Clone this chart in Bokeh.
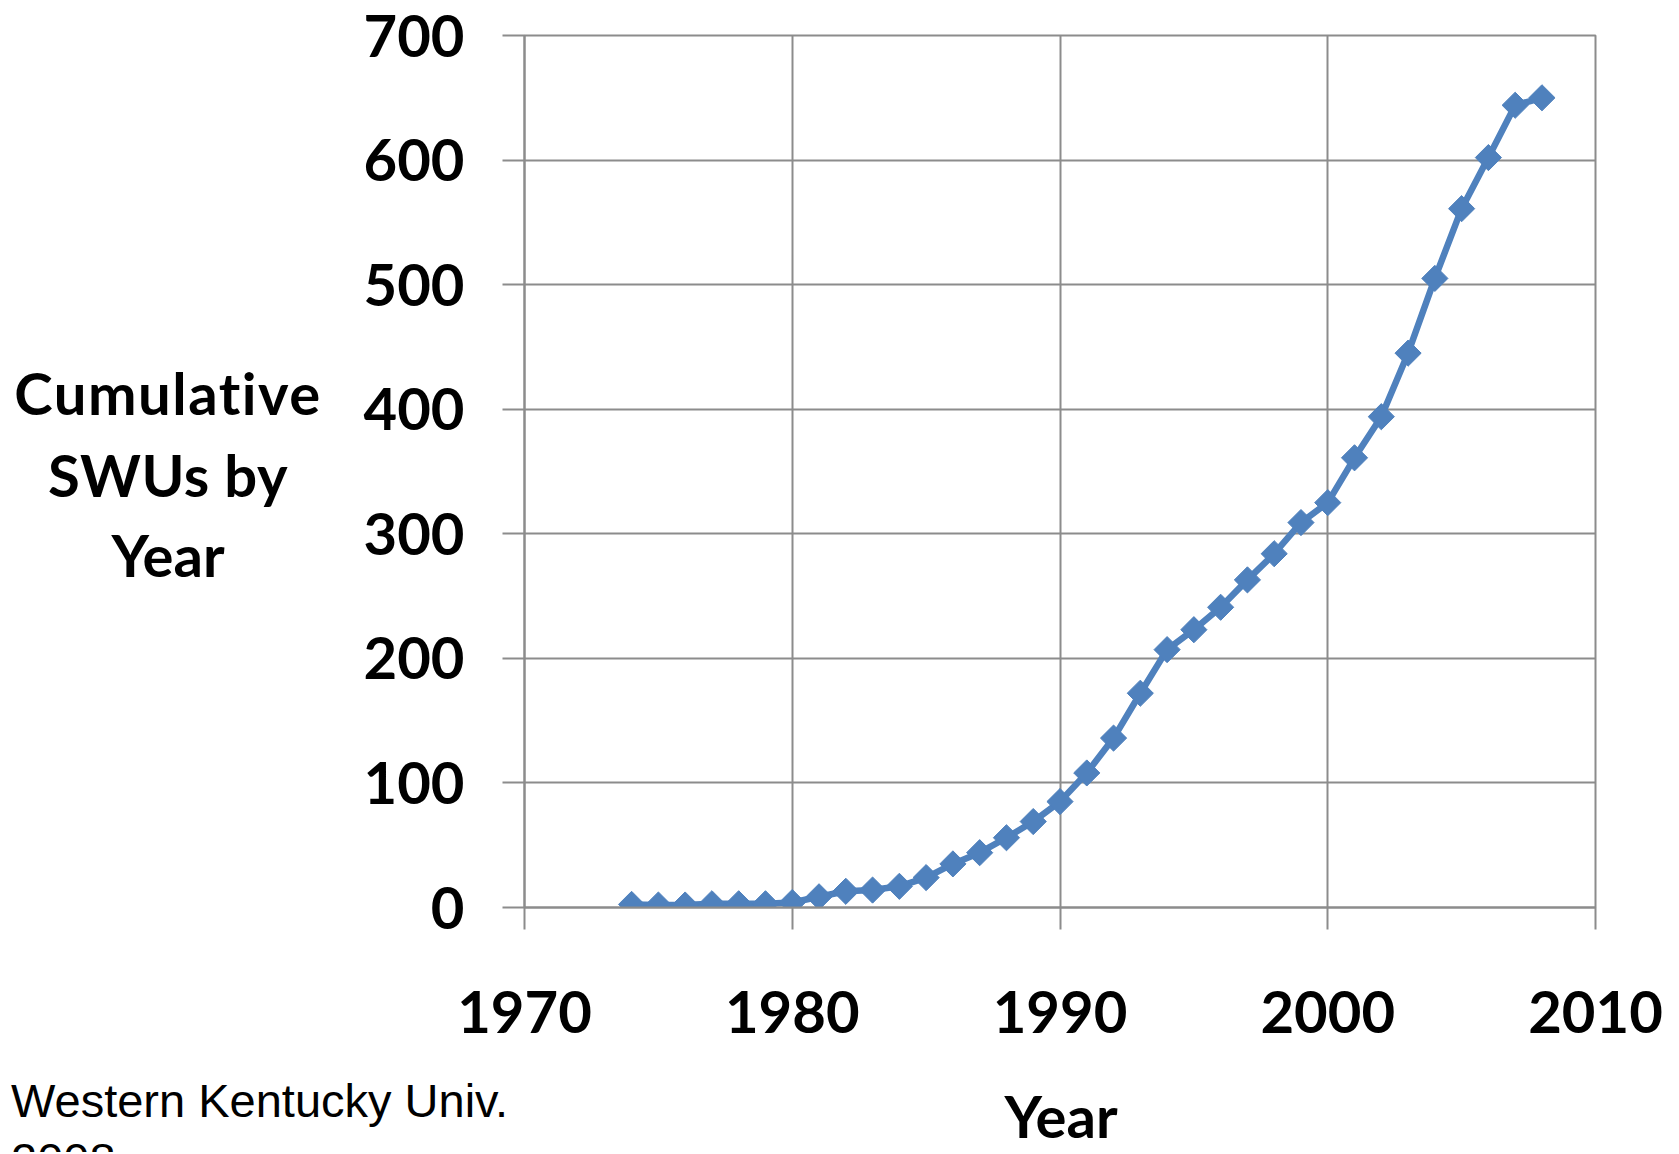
from bokeh.plotting import figure
from bokeh.models import FixedTicker, Range1d, Div
from bokeh.layouts import column, row
from bokeh.embed import file_html
from bokeh.resources import INLINE

years = list(range(1974, 2009))
swus = [2.5, 2, 2, 3, 3, 3, 4,
        8.6, 13, 14, 17, 24, 35, 44, 56, 69,
        85, 108, 136, 172, 207, 223, 241, 263, 284, 309,
        325, 361, 394, 445, 505, 561, 602, 644, 650]
x_ticks = [1970, 1980, 1990, 2000, 2010]
y_ticks = [0, 100, 200, 300, 400, 500, 600, 700]
y_title_lines = ["Cumulative", "SWUs by", "Year"]
x_title = "Year"
source_lines = ["Western Kentucky Univ.", "2008"]

BLUE = "#4F81BD"
GRID = "#8C8C8C"
FONT = "Lato"

W_TOTAL, H_TOTAL = 1663, 1152
W_LEFT = 330          # width of the panel holding the y title
H_TOP = 1065          # height of the chart row

# ---- main chart ----
p = figure(width=W_TOTAL - W_LEFT, height=H_TOP, output_backend="svg", toolbar_location=None,
           x_range=Range1d(1970, 2010), y_range=Range1d(0, 700),
           min_border_left=524 - W_LEFT, min_border_right=68,
           min_border_top=35, min_border_bottom=H_TOP - 35 - 872)
p.background_fill_color = "white"
p.border_fill_color = "white"
p.outline_line_color = GRID
p.outline_line_width = 2

for ax in (p.xaxis, p.yaxis):
    ax.axis_line_color = GRID
    ax.axis_line_width = 2
    ax.major_tick_line_color = GRID
    ax.major_tick_line_width = 2
    ax.major_tick_out = 22
    ax.major_tick_in = 0
    ax.minor_tick_line_color = None
    ax.major_label_text_font = FONT
    ax.major_label_text_font_style = "bold"
    ax.major_label_text_font_size = "58px"
    ax.major_label_text_color = "black"

p.xaxis.ticker = FixedTicker(ticks=x_ticks)
p.yaxis.ticker = FixedTicker(ticks=y_ticks)
p.xaxis.major_label_standoff = 61
p.yaxis.major_label_standoff = 38

p.xgrid.ticker = FixedTicker(ticks=x_ticks)
p.ygrid.ticker = FixedTicker(ticks=y_ticks)
for g in (p.xgrid, p.ygrid):
    g.grid_line_color = GRID
    g.grid_line_width = 2

p.line(years, swus, line_color=BLUE, line_width=6.5)
p.scatter(years, swus, marker="square", angle=0.785398, size=18.5,
          fill_color=BLUE, line_color=BLUE)


# ---- text panels (HTML) ----
# font metrics (ascent, descent) as fractions of the em
METRICS = {"Lato": (0.987, 0.213), "Liberation Sans": (0.905, 0.212)}


def span(txt, left, baseline, width, align, font, weight, size, lh=1.0, spacing=0.0):
    asc, desc = METRICS[font]
    top = baseline - ((lh - asc - desc) / 2 + asc) * size
    return (f'<div style="position:absolute; left:{left}px; top:{top:.1f}px; width:{width}px; '
            f'text-align:{align}; font-family:\'{font}\'; font-weight:{weight}; '
            f'font-size:{size}px; line-height:{lh * size:.1f}px; white-space:nowrap; '
            f'color:black; letter-spacing:{spacing}px; '
            f'font-variant-ligatures:none;">{txt}</div>')


def box(inner, w, h):
    return (f'<div style="position:relative; width:{w}px; height:{h}px; overflow:hidden; '
            f'background:white; margin:0; padding:0;">{inner}</div>')


left_html = "".join(
    span(t, 0, b, 336, "center", FONT, "bold", 58, spacing=sp)
    for t, b, sp in zip(y_title_lines, [415, 497, 577], [1.5, 0.5, 0.0]))
left = Div(text=box(left_html, W_LEFT, H_TOP), width=W_LEFT, height=H_TOP, margin=0)

H_BOT = H_TOTAL - H_TOP
bottom_html = span(x_title, 861, 1139 - H_TOP, 400, "center", FONT, "bold", 58, lh=0.8)
bottom_html += "".join(
    span(t, 11, b - H_TOP, 800, "left", "Liberation Sans", "normal", 47)
    for t, b in zip(source_lines, [1117, 1176]))
bottom = Div(text=box(bottom_html, W_TOTAL, H_BOT), width=W_TOTAL, height=H_BOT, margin=0)

layout = column(row(left, p, spacing=0), bottom, spacing=0)
open("out.html", "w").write(file_html(layout, INLINE))
